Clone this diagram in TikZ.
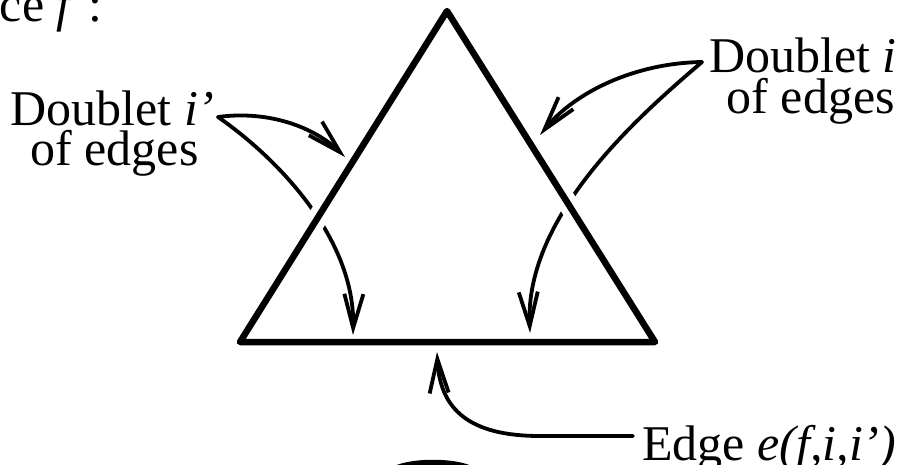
\documentclass[tikz,border=0pt]{standalone}
\usepackage{fontspec}
\setmainfont{Liberation Serif}
\usetikzlibrary{arrows.meta,calc}
\begin{document}
\begin{tikzpicture}[x=1pt,y=-1pt,
  lbl/.style={inner sep=0pt, font=\fontsize{50}{41}\selectfont},
  tri/.style={line width=6.5pt, line join=round, line cap=round},
  arr/.style={line width=3.8pt, line cap=round, line join=round,
    -{Straight Barb[length=34pt,width=19pt,line width=3.8pt]}},
  halo/.style={white, line width=20pt}]
\useasboundingbox (0,0) rectangle (905,464);
% labels
\node[lbl, anchor=base east] (face) at (103,21.5) {Face \textit{f} :};
\node[lbl, anchor=base] (dl1) at (112.5,125) {Doublet \textit{i’}};
\node[lbl, anchor=base] (dl2) at (114.5,165) {of edges};
\node[lbl, anchor=base east] (dr1) at (897,72) {Doublet \textit{i}};
\node[lbl, anchor=base east] (dr2) at (895,113) {of edges};
\node[lbl, anchor=base west] (edl) at (642,460) {Edge \textit{e(f,i,i’)}};
% geometry
\coordinate (A) at (447,11);
\coordinate (L) at (240,342);
\coordinate (R) at (655,342);
\coordinate (s1) at (218,117);
\coordinate (s2) at (702,62);
\coordinate (s3) at ($(edl.base west)+(-9,-24)$);
\coordinate (tA) at (345,157);
\coordinate (tB) at (353,335);
\coordinate (tC) at (540,135);
\coordinate (tD) at (530,333);
\coordinate (tE) at (437,352);
% lower arrows (passing under the triangle)
\draw[arr] (s1) .. controls (280,160) and (355,240) .. (tB);
\draw[arr] (s2) .. controls (640,115) and (525,215) .. (tD);
\draw[halo] ($(L)!0.28!(A)$) -- ($(L)!0.47!(A)$);
\draw[halo] ($(R)!0.33!(A)$) -- ($(R)!0.52!(A)$);
% triangle
\draw[tri] (A) -- (R) -- (L) -- cycle;
% upper arrows
\draw[arr] (s1) .. controls (270,110) and (315,128) .. (tA);
\draw[arr] (s2) .. controls (635,63) and (575,92) .. (tC);
% edge arrow
\draw[arr] (s3) -- (540,436) .. controls (470,436) and (440,410) .. (tE);
% cut-off shape at the bottom
\draw[tri] (433,477) ellipse [x radius=46pt, y radius=14pt];
\end{tikzpicture}
\end{document}
